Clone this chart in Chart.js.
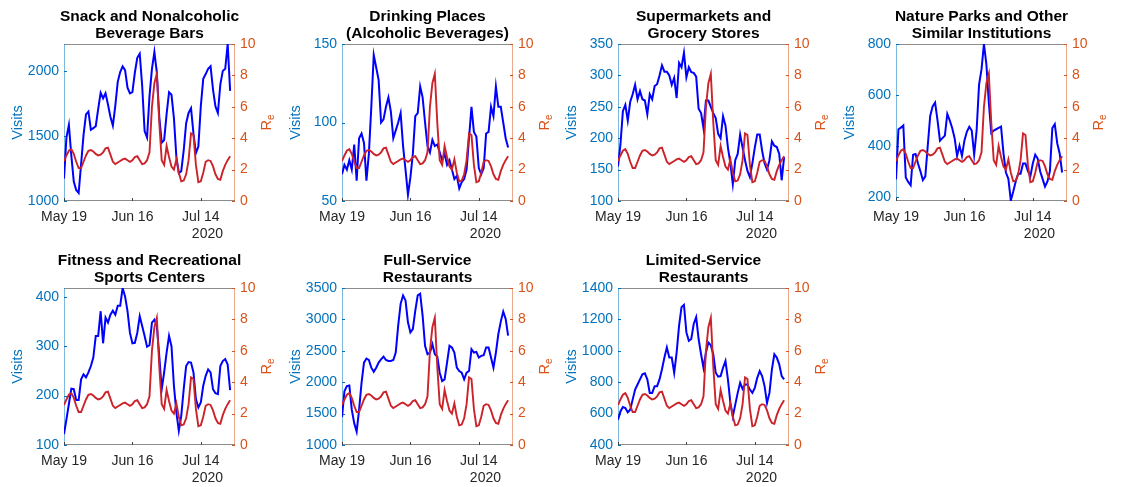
<!DOCTYPE html>
<html>
<head>
<meta charset="utf-8">
<title>Visitas y Re</title>
<script src="https://cdn.jsdelivr.net/npm/chart.js@4.4.0/dist/chart.umd.min.js"></script>
<style>
body{margin:0;background:#fff;width:1125px;height:487px;overflow:hidden;position:relative;}
canvas{position:absolute;}
</style>
</head>
<body>
<canvas id="g1" width="277" height="243" style="left:0px;top:0px"></canvas>
<canvas id="g2" width="277" height="243" style="left:278px;top:0px"></canvas>
<canvas id="g3" width="277" height="243" style="left:554px;top:0px"></canvas>
<canvas id="g4" width="277" height="243" style="left:832px;top:0px"></canvas>
<canvas id="g5" width="277" height="243" style="left:0px;top:244px"></canvas>
<canvas id="g6" width="277" height="243" style="left:278px;top:244px"></canvas>
<canvas id="g7" width="277" height="243" style="left:554px;top:244px"></canvas>
<script>
// eje x: dias desde el 19 de mayo 2020
var diasX=[0,28,56];
var etiquetasX=['May 19','Jun 16','Jul 14'];
var ticksRe=[0,2,4,6,8,10];

// Re (igual en todos los paneles)
var re=[2.54,2.9,3.2,3.3,3.0,2.5,2.1,2.1,2.5,2.9,
        3.2,3.25,3.15,3.0,2.9,2.95,3.1,3.35,3.4,2.95,
        2.5,2.35,2.45,2.55,2.65,2.7,2.6,2.5,2.6,2.8,
        2.85,2.6,2.35,2.4,2.6,3.1,6.0,7.5,8.1,5.0,
        2.6,2.3,3.5,2.8,2.2,2.0,2.65,1.8,1.25,1.3,
        1.7,2.6,4.3,4.2,2.3,1.2,1.25,1.8,2.5,2.6,
        2.55,2.2,1.7,1.4,1.35,1.9,2.3,2.6,2.85];

//visitas por categoria
var visitasSnack=[1173,1490,1587,1350,1150,1085,1062,1285,1510,1668,
        1690,1550,1562,1578,1712,1835,1793,1832,1745,1650,
        1582,1735,1920,1995,2039,2010,1875,1831,1840,1990,
        2105,2137,1890,1540,1490,1810,2020,2150,1990,1650,
        1450,1470,1670,1840,1820,1640,1340,1215,1230,1390,
        1600,1680,1716,1520,1370,1420,1730,1943,1980,2020,
        2040,1860,1730,1680,1900,2004,2020,2212,1850];
var ticksSnack=[1000,1500,2000];
var limSnack=[1000,2212];

var visitasBares=[67,73,70,76,70,86,63,90,93,87,
        63,80,110,143,135,127,100,102,110,116,
        107,90,95,100,106,85,70,54,65,80,
        104,106,123,116,100,85,81,89,85,86,
        81,76,80,73,76,70,64,66,58,62,
        64,70,90,110,94,91,71,67,71,93,
        94,110,104,123,110,110,100,90,84];
var ticksBares=[50,100,150];
var limBares=[50,150];

var visitasSuper=[155,190,243,253,228,258,270,285,262,275,
        262,260,238,270,262,283,286,300,316,306,
        306,300,285,296,264,320,313,336,297,313,
        305,304,298,247,240,216,260,260,250,240,
        232,207,200,235,220,185,160,127,165,175,
        206,185,165,148,138,160,185,206,206,180,
        160,150,165,195,188,186,175,133,170];
var ticksSuper=[100,150,200,250,300,350];
var limSuper=[100,350];

var visitasParques=[268,465,471,480,275,258,245,365,368,330,
        300,265,280,400,517,555,570,500,420,430,
        440,525,500,470,430,360,400,360,420,455,
        475,460,365,460,640,700,800,720,570,450,
        460,465,470,475,370,295,270,185,220,260,
        290,290,330,330,300,280,330,365,350,300,
        270,240,260,300,470,485,410,370,295];
var ticksParques=[200,400,600,800];
var limParques=[183,800];

var visitasGimnasios=[122,152,183,214,213,191,191,233,243,237,
        247,260,277,321,321,371,306,358,348,364,
        372,364,382,382,418,401,371,327,306,307,
        327,361,341,321,299,302,348,354,341,280,
        213,247,287,321,300,220,166,129,159,213,
        260,268,267,247,193,176,186,220,240,253,
        247,213,205,203,260,270,274,263,211];
var ticksGimnasios=[100,200,300,400];
var limGimnasios=[100,418];

var visitasRestCompleto=[1444,1857,1937,1948,1562,1348,1214,1562,1990,2312,
        2376,2354,2231,2167,2231,2312,2365,2408,2354,2338,
        2338,2354,2472,2900,3248,3382,3302,2954,2793,2847,
        3141,3382,3409,3061,2579,2445,2472,2606,2445,2408,
        2151,2017,2044,2312,2579,2552,2472,2231,2178,2151,
        2044,2151,2178,2526,2472,2483,2392,2419,2429,2552,
        2552,2392,2231,2472,2767,2965,3125,3007,2740];
var ticksRestCompleto=[1000,1500,2000,2500,3000,3500];
var limRestCompleto=[1000,3500];

var visitasRestLimitado=[561,614,642,635,608,625,689,753,785,818,
        850,856,818,732,732,775,775,818,882,957,
        1021,957,957,860,989,1160,1278,1293,1117,1064,
        1075,1171,1214,1075,978,892,989,1053,1036,978,
        860,835,839,892,935,818,668,582,657,732,
        796,757,785,785,753,732,764,828,871,839,
        775,668,732,882,978,957,914,839,818];
var ticksRestLimitado=[400,600,800,1000,1200,1400];
var limRestLimitado=[400,1400];

var azul='#0072BD';
var naranja='#D95319';
var fuente='"Liberation Sans", Arial, Helvetica, sans-serif';

function linea(c,x1,y1,x2,y2,color){
    c.strokeStyle=color;
    c.beginPath();
    c.moveTo(x1,y1);
    c.lineTo(x2,y2);
    c.stroke();
}

// caja, marcas y textos al estilo matlab
var extras={
    id:'extras',
    beforeDatasetsDraw:function(chart){
        var a=chart.chartArea, c=chart.ctx;
        c.save();
        c.lineWidth=1;
        linea(c,a.left,a.top+0.5,a.right,a.top+0.5,'#8c8c8c');
        linea(c,a.left,a.bottom-0.5,a.right,a.bottom-0.5,'#8c8c8c');
        linea(c,a.left+0.5,a.top,a.left+0.5,a.bottom,'rgba(0,114,189,0.5)');
        linea(c,a.right-0.5,a.top,a.right-0.5,a.bottom,'rgba(217,83,25,0.5)');
        var sy=chart.scales.y, sy1=chart.scales.y1, sx=chart.scales.x;
        sy.ticks.forEach(function(t){
            var p=Math.round(sy.getPixelForValue(t.value))+0.5;
            linea(c,a.left,p,a.left+3,p,azul);
        });
        sy1.ticks.forEach(function(t){
            var p=Math.round(sy1.getPixelForValue(t.value))+0.5;
            linea(c,a.right-3,p,a.right,p,naranja);
        });
        sx.ticks.forEach(function(t){
            var p=Math.round(sx.getPixelForValue(t.value))+0.5;
            linea(c,p,a.bottom-3,p,a.bottom,'#404040');
        });
        c.restore();
    },
    afterDraw:function(chart,args,op){
        var a=chart.chartArea, c=chart.ctx;
        var medio=(a.top+a.bottom)/2;
        c.save();
        //titulo
        c.fillStyle='#000';
        c.font='bold 15.5px '+fuente;
        c.textAlign='center';
        c.textBaseline='alphabetic';
        c.fillText(op.titulo[0],(a.left+a.right)/2,a.top-23);
        c.fillText(op.titulo[1],(a.left+a.right)/2,a.top-6);
        //2020
        c.fillStyle='#262626';
        c.font='14px '+fuente;
        c.textAlign='right';
        c.fillText('2020',a.right-12,a.bottom+36.5);
        //Visits
        c.save();
        c.translate(a.left-42,medio);
        c.rotate(-Math.PI/2);
        c.fillStyle=azul;
        c.font='14.5px '+fuente;
        c.textAlign='center';
        c.fillText('Visits',0,0);
        c.restore();
        //R sub e
        c.save();
        c.translate(a.right+36,medio);
        c.rotate(-Math.PI/2);
        c.fillStyle=naranja;
        c.textAlign='left';
        c.font='14.5px '+fuente;
        var wR=c.measureText('R').width;
        c.font='10px '+fuente;
        var wE=c.measureText('e').width;
        var x0=-(wR+wE)/2;
        c.font='14.5px '+fuente;
        c.fillText('R',x0,0);
        c.font='10px '+fuente;
        c.fillText('e',x0+wR,3);
        c.restore();
        c.restore();
    }
};

function sinComas(v){
    return String(v);
}

function paneles(){
    this.ini=function(){
        Chart.defaults.font.family=fuente;
        Chart.defaults.font.size=14;
        this.grafica('g1',['Snack and Nonalcoholic','Beverage Bars'],visitasSnack,ticksSnack,limSnack);
        this.grafica('g2',['Drinking Places','(Alcoholic Beverages)'],visitasBares,ticksBares,limBares);
        this.grafica('g3',['Supermarkets and','Grocery Stores'],visitasSuper,ticksSuper,limSuper);
        this.grafica('g4',['Nature Parks and Other','Similar Institutions'],visitasParques,ticksParques,limParques);
        this.grafica('g5',['Fitness and Recreational','Sports Centers'],visitasGimnasios,ticksGimnasios,limGimnasios);
        this.grafica('g6',['Full-Service','Restaurants'],visitasRestCompleto,ticksRestCompleto,limRestCompleto);
        this.grafica('g7',['Limited-Service','Restaurants'],visitasRestLimitado,ticksRestLimitado,limRestLimitado);
    }
    this.grafica=function(id,titulo,visitas,ticksV,limV){
        var ctx=document.getElementById(id).getContext('2d');
        var puntosV=visitas.map(function(v,i){return {x:i,y:v};});
        var puntosR=re.map(function(v,i){return {x:i,y:v};});
        var mychart=new Chart(ctx,{
            type:'line',
            data:{
                datasets:[
                    {
                        label:'Re',
                        data:puntosR,
                        yAxisID:'y1',
                        borderColor:'#CC2229',
                        borderWidth:1.9,
                        pointRadius:0,
                        tension:0,
                        order:0
                    },
                    {
                        label:'Visits',
                        data:puntosV,
                        yAxisID:'y',
                        borderColor:'#0000FF',
                        borderWidth:2,
                        pointRadius:0,
                        tension:0,
                        order:1
                    }
                ]
            },
            options:{
                responsive:false,
                animation:false,
                devicePixelRatio:1,
                layout:{padding:{top:44,left:0,right:0,bottom:0}},
                plugins:{
                    legend:{display:false},
                    tooltip:{enabled:false},
                    extras:{titulo:titulo}
                },
                scales:{
                    x:{
                        type:'linear',
                        min:0,
                        max:70,
                        grid:{display:false,drawTicks:false},
                        border:{display:false},
                        afterBuildTicks:function(escala){
                            escala.ticks=diasX.map(function(d){return {value:d};});
                        },
                        afterFit:function(escala){escala.height=42;},
                        ticks:{
                            color:'#262626',
                            padding:8,
                            maxRotation:0,
                            autoSkip:false,
                            callback:function(v){
                                var k=diasX.indexOf(v);
                                return k>=0?etiquetasX[k]:'';
                            }
                        }
                    },
                    y:{
                        position:'left',
                        min:limV[0],
                        max:limV[1],
                        grid:{display:false,drawTicks:false},
                        border:{display:false},
                        afterBuildTicks:function(escala){
                            escala.ticks=ticksV.map(function(v){return {value:v};});
                        },
                        afterFit:function(escala){escala.width=64;},
                        ticks:{color:azul,padding:5,callback:sinComas}
                    },
                    y1:{
                        position:'right',
                        min:0,
                        max:10,
                        grid:{display:false,drawTicks:false},
                        border:{display:false},
                        afterBuildTicks:function(escala){
                            escala.ticks=ticksRe.map(function(v){return {value:v};});
                        },
                        afterFit:function(escala){escala.width=42;},
                        ticks:{color:naranja,padding:5,callback:sinComas}
                    }
                }
            },
            plugins:[extras]
        });
        return mychart;
    }
}
var opaneles=new paneles();
opaneles.ini();
</script>
</body>
</html>
